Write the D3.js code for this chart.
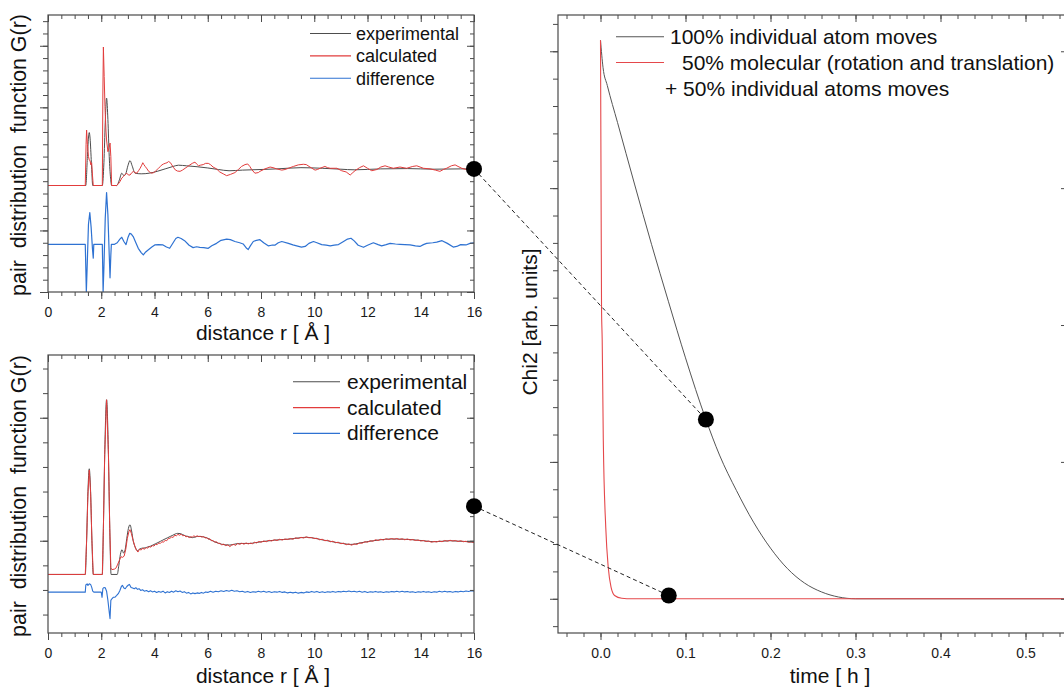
<!DOCTYPE html>
<html><head><meta charset="utf-8">
<script src="https://cdn.jsdelivr.net/npm/d3@7"></script>
<style>
html,body{margin:0;padding:0;background:#fff;}
svg{display:block;font-family:"Liberation Sans",Arial,sans-serif;}
</style></head>
<body>
<script>
// ---------------- DATA ----------------
const rTicks = [0,2,4,6,8,10,12,14,16];
const tTicks = [0.0,0.1,0.2,0.3,0.4,0.5];
const legendPdf = ["experimental","calculated","difference"];
const legendChi = ["100% individual atom moves","50% molecular (rotation and translation)","+ 50% individual atoms moves"];

// top panel (RMC with individual atom moves only)
const topExp = [[0,-0.27],[1.42,-0.27],[1.48,0.2],[1.52,0.5],[1.55,0.59],[1.58,0.5],[1.63,0.1],[1.68,-0.27],[2.04,-0.27],[2.1,0.1],[2.15,0.75],[2.2,1.15],[2.25,0.8],[2.3,0.2],[2.35,-0.15],[2.39,-0.27],[2.58,-0.27],[2.68,-0.18],[2.77,-0.07],[2.85,-0.11],[2.92,-0.08],[3.0,0.05],[3.08,0.135],[3.16,0.05],[3.27,-0.07],[3.5,-0.08],[3.8,-0.07],[4.1,-0.04],[4.4,0.0],[4.7,0.04],[4.9,0.06],[5.2,0.05],[5.6,0.035],[6.0,0.015],[6.4,-0.01],[6.8,-0.03],[7.3,-0.02],[8.0,-0.01],[8.6,0.0],[9.5,0.02],[10.3,0.01],[11,-0.005],[11.5,-0.015],[12.5,0.0],[13.5,0.005],[14.5,-0.005],[15.5,0.0],[16,0.0]];
const topCalc = [[0,-0.27],[1.4,-0.27],[1.43,0.4],[1.45,0.63],[1.48,0.4],[1.52,0.2],[1.55,0.146],[1.58,0.13],[1.61,0.065],[1.64,0.1],[1.67,-0.1],[1.70,-0.27],[2.04,-0.27],[2.06,1.2],[2.08,1.98],[2.11,1.5],[2.14,1.01],[2.18,0.6],[2.2,0.47],[2.25,0.28],[2.3,0.35],[2.33,0.42],[2.36,0.2],[2.39,-0.27],[2.58,-0.27],[2.65,-0.24],[2.71,-0.2],[2.77,-0.15],[2.83,-0.125],[2.9,-0.09],[2.96,-0.07],[3.02,-0.1],[3.08,-0.1],[3.15,-0.06],[3.21,-0.04],[3.27,-0.06],[3.33,-0.07],[3.4,-0.03],[3.46,0.01],[3.52,0.06],[3.56,0.1],[3.6,0.07],[3.65,0.04],[3.72,0.0],[3.78,-0.04],[3.85,-0.06],[3.9,-0.07],[3.97,-0.06],[4.03,-0.04],[4.1,-0.01],[4.15,0.01],[4.22,0.04],[4.28,0.065],[4.34,0.08],[4.4,0.09],[4.47,0.1],[4.53,0.12],[4.6,0.1],[4.65,0.065],[4.72,0.02],[4.78,-0.016],[4.86,-0.035],[4.96,-0.04],[5.05,-0.02],[5.15,0.01],[5.25,0.04],[5.33,0.065],[5.42,0.09],[5.52,0.11],[5.58,0.08],[5.65,0.05],[5.72,0.06],[5.83,0.07],[5.92,0.09],[6.02,0.09],[6.1,0.07],[6.2,0.03],[6.33,0.0],[6.45,-0.05],[6.58,-0.08],[6.71,-0.11],[6.85,-0.09],[7.02,-0.06],[7.15,-0.01],[7.27,0.04],[7.4,0.07],[7.5,0.08],[7.58,0.04],[7.65,-0.01],[7.77,-0.07],[7.9,-0.06],[7.96,-0.04],[8.15,0.0],[8.34,0.03],[8.45,0.02],[8.59,0.0],[8.78,-0.02],[8.9,-0.01],[9.03,0.01],[9.22,0.04],[9.4,0.065],[9.59,0.075],[9.7,0.07],[9.84,0.03],[10.03,-0.02],[10.12,-0.01],[10.22,0.01],[10.4,0.04],[10.5,0.02],[10.6,0.01],[10.85,0.01],[11.03,-0.03],[11.2,-0.05],[11.35,-0.1],[11.45,-0.06],[11.53,-0.03],[11.7,0.02],[11.85,0.05],[12.0,0.01],[12.16,-0.03],[12.35,-0.01],[12.5,0.03],[12.66,0.05],[12.8,0.03],[12.97,0.01],[13.22,0.03],[13.47,0.01],[13.7,0.04],[13.85,0.05],[14.1,0.01],[14.35,0.0],[14.55,-0.02],[14.72,-0.04],[14.85,-0.01],[14.97,0.01],[15.15,0.05],[15.29,0.065],[15.4,0.04],[15.54,0.01],[15.79,-0.02],[16,0.0]];
const topDiff = [[0,-1.225],[1.4,-1.225],[1.44,-2.0],[1.47,-1.6],[1.52,-0.9],[1.57,-0.71],[1.62,-0.95],[1.67,-1.3],[1.7,-1.45],[1.72,-1.225],[2.04,-1.225],[2.07,-2.0],[2.1,-1.6],[2.15,-0.8],[2.2,-0.385],[2.25,-0.75],[2.3,-1.4],[2.33,-1.77],[2.36,-1.4],[2.38,-1.225],[2.5,-1.225],[2.6,-1.2],[2.7,-1.14],[2.77,-1.111],[2.85,-1.18],[2.93,-1.23],[3.0,-1.12],[3.07,-1.046],[3.13,-1.06],[3.2,-1.1],[3.3,-1.2],[3.39,-1.29],[3.5,-1.36],[3.58,-1.398],[3.67,-1.35],[3.76,-1.317],[3.9,-1.27],[4.01,-1.236],[4.15,-1.23],[4.32,-1.236],[4.45,-1.27],[4.57,-1.29],[4.7,-1.2],[4.8,-1.13],[4.88,-1.111],[5.0,-1.13],[5.13,-1.166],[5.3,-1.24],[5.45,-1.279],[5.58,-1.265],[5.7,-1.274],[5.85,-1.28],[6.02,-1.29],[6.15,-1.25],[6.33,-1.21],[6.5,-1.16],[6.71,-1.14],[6.85,-1.15],[7.02,-1.18],[7.2,-1.2],[7.33,-1.22],[7.46,-1.29],[7.52,-1.31],[7.6,-1.25],[7.71,-1.18],[7.83,-1.16],[7.96,-1.15],[8.1,-1.2],[8.27,-1.25],[8.4,-1.24],[8.52,-1.24],[8.65,-1.2],[8.78,-1.18],[9.03,-1.21],[9.2,-1.235],[9.34,-1.25],[9.52,-1.27],[9.66,-1.26],[9.8,-1.21],[9.97,-1.18],[10.1,-1.2],[10.28,-1.23],[10.45,-1.24],[10.6,-1.25],[10.75,-1.24],[10.91,-1.23],[11.1,-1.18],[11.25,-1.14],[11.38,-1.127],[11.5,-1.17],[11.65,-1.24],[11.85,-1.274],[12.0,-1.24],[12.22,-1.2],[12.4,-1.23],[12.53,-1.25],[12.7,-1.23],[12.85,-1.21],[13.05,-1.22],[13.22,-1.225],[13.4,-1.23],[13.6,-1.235],[13.8,-1.25],[13.97,-1.26],[14.1,-1.23],[14.22,-1.21],[14.45,-1.2],[14.6,-1.19],[14.8,-1.166],[15.0,-1.21],[15.22,-1.27],[15.35,-1.26],[15.5,-1.23],[15.7,-1.236],[15.85,-1.21],[16,-1.2]];

// bottom panel (50% molecular + 50% atom moves)
const botExp = [[0,-0.274],[1.40,-0.274],[1.45,0.0],[1.5,0.4],[1.55,0.585],[1.6,0.4],[1.65,0.0],[1.70,-0.274],[2.04,-0.274],[2.08,0.1],[2.13,0.7],[2.2,1.146],[2.27,0.7],[2.32,0.1],[2.37,-0.274],[2.6,-0.274],[2.66,-0.2],[2.72,-0.11],[2.78,-0.073],[2.84,-0.1],[2.9,-0.07],[2.96,0.02],[3.02,0.1],[3.08,0.13],[3.14,0.08],[3.2,0.0],[3.27,-0.05],[3.36,-0.08],[3.46,-0.065],[3.56,-0.06],[3.65,-0.058],[3.75,-0.05],[3.84,-0.045],[3.94,-0.035],[4.03,-0.025],[4.13,-0.015],[4.22,-0.005],[4.31,0.005],[4.4,0.015],[4.5,0.025],[4.59,0.035],[4.69,0.045],[4.78,0.055],[4.87,0.06],[4.96,0.058],[5.06,0.05],[5.15,0.04],[5.24,0.035],[5.33,0.03],[5.42,0.025],[5.52,0.03],[5.61,0.035],[5.71,0.035],[5.8,0.033],[5.9,0.028],[6.0,0.02],[6.08,0.01],[6.18,0.0],[6.27,-0.01],[6.4,-0.02],[6.52,-0.028],[6.65,-0.033],[6.83,-0.035],[7.0,-0.028],[7.2,-0.022],[7.4,-0.022],[7.58,-0.022],[7.77,-0.016],[7.96,-0.01],[8.15,-0.004],[8.33,0.0],[8.52,0.005],[8.71,0.008],[8.9,0.011],[9.09,0.014],[9.27,0.019],[9.46,0.024],[9.71,0.028],[9.97,0.022],[10.16,0.014],[10.35,0.005],[10.55,-0.002],[10.72,-0.01],[10.95,-0.018],[11.15,-0.025],[11.35,-0.03],[11.55,-0.026],[11.72,-0.018],[11.97,-0.008],[12.22,0.0],[12.5,0.008],[12.85,0.014],[13.1,0.014],[13.35,0.012],[13.6,0.01],[13.85,0.005],[14.1,0.0],[14.47,-0.008],[14.8,-0.004],[15.1,0.0],[15.35,-0.003],[15.6,-0.005],[15.85,-0.01],[16,-0.012]];
const botCalc = [[0,-0.274],[1.40,-0.274],[1.45,0.0],[1.5,0.38],[1.55,0.575],[1.6,0.39],[1.65,0.0],[1.70,-0.274],[2.04,-0.274],[2.08,0.1],[2.13,0.7],[2.2,1.146],[2.27,0.7],[2.32,0.1],[2.36,-0.22],[2.4,-0.235],[2.5,-0.23],[2.56,-0.22],[2.62,-0.19],[2.68,-0.16],[2.74,-0.13],[2.8,-0.135],[2.86,-0.125],[2.92,-0.07],[2.98,0.02],[3.04,0.075],[3.08,0.09],[3.13,0.06],[3.2,0.0],[3.27,-0.05],[3.33,-0.08],[3.38,-0.092],[3.43,-0.07],[3.5,-0.075],[3.56,-0.06],[3.62,-0.07],[3.68,-0.055],[3.74,-0.06],[3.8,-0.048],[3.86,-0.052],[3.92,-0.04],[3.98,-0.043],[4.04,-0.03],[4.1,-0.032],[4.16,-0.018],[4.22,-0.022],[4.28,-0.008],[4.34,-0.012],[4.4,0.004],[4.46,0.0],[4.52,0.018],[4.58,0.02],[4.64,0.03],[4.7,0.027],[4.76,0.045],[4.82,0.04],[4.88,0.052],[4.94,0.045],[5.0,0.053],[5.06,0.04],[5.12,0.044],[5.18,0.032],[5.24,0.036],[5.3,0.026],[5.36,0.032],[5.42,0.03],[5.48,0.04],[5.54,0.032],[5.6,0.04],[5.66,0.034],[5.72,0.036],[5.78,0.03],[5.84,0.034],[5.9,0.022],[5.96,0.026],[6.02,0.012],[6.08,0.016],[6.14,0.0],[6.2,0.002],[6.26,-0.012],[6.32,-0.008],[6.4,-0.022],[6.46,-0.02],[6.52,-0.034],[6.6,-0.028],[6.68,-0.04],[6.75,-0.033],[6.83,-0.048],[6.9,-0.035],[6.98,-0.03],[7.05,-0.038],[7.12,-0.022],[7.2,-0.03],[7.28,-0.02],[7.36,-0.028],[7.44,-0.018],[7.52,-0.026],[7.6,-0.02],[7.68,-0.024],[7.76,-0.012],[7.84,-0.018],[7.92,-0.006],[8.0,-0.012],[8.1,-0.002],[8.2,-0.008],[8.3,0.004],[8.4,-0.002],[8.5,0.008],[8.6,0.002],[8.7,0.012],[8.8,0.006],[8.9,0.014],[9.0,0.01],[9.1,0.018],[9.2,0.012],[9.3,0.024],[9.4,0.018],[9.5,0.028],[9.6,0.022],[9.7,0.032],[9.8,0.024],[9.9,0.026],[10.0,0.018],[10.1,0.02],[10.2,0.008],[10.3,0.012],[10.4,0.0],[10.5,0.004],[10.6,-0.008],[10.7,-0.004],[10.8,-0.016],[10.9,-0.012],[11.0,-0.024],[11.1,-0.02],[11.2,-0.032],[11.3,-0.026],[11.4,-0.036],[11.5,-0.026],[11.6,-0.03],[11.7,-0.018],[11.8,-0.02],[11.9,-0.008],[12.0,-0.012],[12.1,0.0],[12.2,-0.004],[12.3,0.008],[12.4,0.002],[12.5,0.012],[12.6,0.006],[12.7,0.016],[12.8,0.01],[12.9,0.018],[13.0,0.012],[13.1,0.018],[13.2,0.01],[13.3,0.016],[13.4,0.008],[13.5,0.014],[13.6,0.006],[13.7,0.01],[13.8,0.002],[13.9,0.006],[14.0,-0.002],[14.1,0.002],[14.2,-0.006],[14.3,-0.002],[14.4,-0.012],[14.5,-0.006],[14.6,-0.01],[14.7,-0.002],[14.8,-0.008],[14.9,0.002],[15.0,-0.004],[15.1,0.004],[15.2,-0.002],[15.3,0.002],[15.4,-0.006],[15.5,0.0],[15.6,-0.008],[15.7,-0.004],[15.8,-0.012],[15.9,-0.008],[16.0,-0.016]];
const botDiff = [[0,-0.418],[1.40,-0.418],[1.42,-0.36],[1.47,-0.35],[1.5,-0.363],[1.55,-0.35],[1.6,-0.355],[1.64,-0.377],[1.68,-0.41],[1.72,-0.418],[2.0,-0.418],[2.03,-0.46],[2.06,-0.39],[2.1,-0.38],[2.15,-0.382],[2.2,-0.41],[2.25,-0.485],[2.3,-0.58],[2.33,-0.634],[2.36,-0.485],[2.4,-0.472],[2.45,-0.46],[2.52,-0.458],[2.58,-0.445],[2.64,-0.43],[2.7,-0.404],[2.76,-0.37],[2.8,-0.363],[2.85,-0.385],[2.9,-0.39],[2.96,-0.372],[3.02,-0.36],[3.06,-0.355],[3.12,-0.38],[3.18,-0.385],[3.24,-0.39],[3.3,-0.382],[3.36,-0.395],[3.42,-0.39],[3.48,-0.404],[3.55,-0.398],[3.62,-0.41],[3.7,-0.405],[3.78,-0.414],[3.85,-0.406],[3.92,-0.416],[4.0,-0.41],[4.08,-0.42],[4.16,-0.412],[4.24,-0.418],[4.32,-0.41],[4.4,-0.424],[4.48,-0.414],[4.56,-0.42],[4.64,-0.41],[4.72,-0.418],[4.8,-0.406],[4.88,-0.414],[4.96,-0.408],[5.04,-0.42],[5.12,-0.414],[5.2,-0.426],[5.28,-0.42],[5.36,-0.432],[5.44,-0.424],[5.52,-0.43],[5.6,-0.424],[5.68,-0.428],[5.76,-0.42],[5.84,-0.426],[5.92,-0.416],[6.0,-0.42],[6.1,-0.41],[6.2,-0.418],[6.3,-0.41],[6.4,-0.414],[6.5,-0.406],[6.6,-0.412],[6.7,-0.404],[6.8,-0.41],[6.9,-0.402],[7.0,-0.41],[7.1,-0.406],[7.2,-0.414],[7.3,-0.41],[7.4,-0.418],[7.5,-0.412],[7.6,-0.42],[7.7,-0.414],[7.8,-0.418],[7.9,-0.41],[8.0,-0.416],[8.1,-0.41],[8.2,-0.418],[8.3,-0.412],[8.4,-0.42],[8.5,-0.414],[8.6,-0.418],[8.7,-0.412],[8.8,-0.42],[8.9,-0.416],[9.0,-0.424],[9.1,-0.418],[9.2,-0.424],[9.3,-0.418],[9.4,-0.426],[9.5,-0.42],[9.6,-0.424],[9.7,-0.416],[9.8,-0.42],[9.9,-0.412],[10.0,-0.418],[10.1,-0.412],[10.2,-0.42],[10.3,-0.414],[10.4,-0.42],[10.5,-0.414],[10.6,-0.418],[10.7,-0.412],[10.8,-0.418],[10.9,-0.412],[11.0,-0.416],[11.1,-0.41],[11.2,-0.414],[11.3,-0.408],[11.4,-0.414],[11.5,-0.41],[11.6,-0.416],[11.7,-0.41],[11.8,-0.418],[11.9,-0.412],[12.0,-0.42],[12.1,-0.414],[12.2,-0.418],[12.3,-0.412],[12.4,-0.418],[12.5,-0.414],[12.6,-0.42],[12.7,-0.414],[12.8,-0.418],[12.9,-0.412],[13.0,-0.416],[13.1,-0.41],[13.2,-0.416],[13.3,-0.41],[13.4,-0.416],[13.5,-0.412],[13.6,-0.418],[13.7,-0.414],[13.8,-0.42],[13.9,-0.414],[14.0,-0.418],[14.1,-0.412],[14.2,-0.418],[14.3,-0.414],[14.4,-0.42],[14.5,-0.414],[14.6,-0.418],[14.7,-0.41],[14.8,-0.416],[14.9,-0.41],[15.0,-0.416],[15.1,-0.412],[15.2,-0.418],[15.3,-0.412],[15.4,-0.416],[15.5,-0.41],[15.6,-0.414],[15.7,-0.408],[15.8,-0.412],[15.9,-0.406],[16.0,-0.41]];

// right panel: Chi2 vs time
const time100 = [0,0.003,0.008,0.02,0.04,0.06,0.08,0.1,0.124,0.14,0.16,0.18,0.2,0.22,0.24,0.26,0.28,0.3,0.56];
const chi100  = [4.08,3.88,3.75,3.48,3.03,2.59,2.17,1.76,1.31,1.05,0.79,0.56,0.37,0.22,0.115,0.05,0.013,0,0];
const time50  = [0,0.0012,0.002,0.0033,0.0062,0.0091,0.0124,0.0166,0.025,0.037,0.56];
const chi50   = [4.08,2.13,1.89,1.157,0.52,0.23,0.085,0.024,0.004,0,0];

// highlighted snapshots: [r, G] in PDF panels, [t, chi2] in the chi2 panel
const snapTop = [16, 0.0];
const snapBot = [16, 0.281];
const snapChiTop = [0.124, 1.31];
const snapChiBot = [0.0803, 0.024];

// ---------------- DRAW ----------------
const W = 1064, H = 693;
const FONT = '"Liberation Sans", Arial, sans-serif';
const C_EXP = "#4d4d4d", C_CALC = "#e23c3c", C_DIFF = "#2e72d2";
const svg = d3.select("body").append("svg").attr("width", W).attr("height", H);

function rng(a, b, s){ const n = Math.round((b - a)/s); return d3.range(n+1).map(i => +(a + i*s).toFixed(6)); }

function panel(o){
  const x = d3.scaleLinear().domain(o.xDomain).range([o.left, o.right]);
  const y = d3.scaleLinear().domain(o.yDomain).range([o.bottom, o.top]);
  const g = svg.append("g");
  const id = "clip" + Math.round(o.top) + "_" + Math.round(o.left);
  svg.append("clipPath").attr("id", id).append("rect")
    .attr("x", o.left).attr("y", o.top).attr("width", o.right - o.left).attr("height", o.bottom - o.top);
  const plot = g.append("g").attr("clip-path", `url(#${id})`);
  const ax = g.append("g").attr("class", "axes");
  const MAJ = 7, MIN = 4;
  function styleAxis(s){ s.select(".domain").remove(); s.selectAll("line").attr("stroke", "#4a4a4a"); }
  // bottom
  ax.append("g").attr("transform", `translate(0,${o.bottom})`)
    .call(d3.axisBottom(x).tickValues(o.xMinor).tickSize(MIN).tickFormat("")).call(styleAxis);
  ax.append("g").attr("transform", `translate(0,${o.bottom})`)
    .call(d3.axisBottom(x).tickValues(o.xMajor).tickSize(MAJ).tickPadding(8).tickFormat(o.xFmt)).call(styleAxis)
    .call(s => s.selectAll("text").attr("font-size", 14).attr("fill", "#1a1a1a").attr("font-family", FONT));
  // top (inward)
  ax.append("g").attr("transform", `translate(0,${o.top})`)
    .call(d3.axisTop(x).tickValues(o.xMinor).tickSize(-MIN).tickFormat("")).call(styleAxis);
  ax.append("g").attr("transform", `translate(0,${o.top})`)
    .call(d3.axisTop(x).tickValues(o.xMajor).tickSize(-MAJ).tickFormat("")).call(styleAxis);
  // left (outward)
  ax.append("g").attr("transform", `translate(${o.left},0)`)
    .call(d3.axisLeft(y).tickValues(o.yMinor).tickSize(MIN+1).tickFormat("")).call(styleAxis);
  ax.append("g").attr("transform", `translate(${o.left},0)`)
    .call(d3.axisLeft(y).tickValues(o.yMajor).tickSize(MAJ+1).tickFormat("")).call(styleAxis);
  // right (inward)
  ax.append("g").attr("transform", `translate(${o.right},0)`)
    .call(d3.axisRight(y).tickValues(o.yMinor).tickSize(-MIN).tickFormat("")).call(styleAxis);
  ax.append("g").attr("transform", `translate(${o.right},0)`)
    .call(d3.axisRight(y).tickValues(o.yMajor).tickSize(-MAJ).tickFormat("")).call(styleAxis);
  ax.append("rect").attr("x", o.left).attr("y", o.top)
    .attr("width", o.right - o.left).attr("height", o.bottom - o.top)
    .attr("fill", "none").attr("stroke", "#4a4a4a").attr("stroke-width", 1.2);
  return {x, y, plot, g};
}

function drawLine(p, data, color, w, curve){
  p.plot.append("path").datum(data)
    .attr("fill", "none").attr("stroke", color).attr("stroke-width", w).attr("stroke-linejoin", "round")
    .attr("d", d3.line().x(d => p.x(d[0])).y(d => p.y(d[1])).curve(curve || d3.curveLinear));
}

function text(str, x, y, size, opts){
  opts = opts || {};
  const t = svg.append("text").attr("x", x).attr("y", y).attr("font-size", size)
    .attr("font-family", FONT).attr("fill", "#111").attr("text-anchor", opts.anchor || "start")
    .style("white-space", "pre").text(str);
  if (opts.rotate) t.attr("transform", `rotate(-90,${x},${y})`);
  return t;
}

// ----- top-left PDF panel -----
const pTop = panel({left: 48, right: 474, top: 15, bottom: 292,
  xDomain: [0, 16], yDomain: [-2, 2.5],
  xMajor: rTicks, xMinor: rng(0, 16, 0.5),
  yMajor: rng(-2, 2, 1), yMinor: rng(-2, 2.4, 0.2), xFmt: d3.format("d")});
drawLine(pTop, topDiff, C_DIFF, 1.2);
drawLine(pTop, topExp, C_EXP, 1, d3.curveMonotoneX);
drawLine(pTop, topCalc, C_CALC, 1);

// ----- bottom-left PDF panel -----
const pBot = panel({left: 48, right: 474, top: 355, bottom: 633,
  xDomain: [0, 16], yDomain: [-0.75, 1.51],
  xMajor: rTicks, xMinor: rng(0, 16, 0.5),
  yMajor: [0, 1], yMinor: rng(-0.6, 1.4, 0.2), xFmt: d3.format("d")});
drawLine(pBot, botDiff, C_DIFF, 1.1);
drawLine(pBot, botExp, C_EXP, 1, d3.curveMonotoneX);
drawLine(pBot, botCalc, C_CALC, 1);

// ----- right Chi2 panel -----
const pChi = panel({left: 558, right: 1068, top: 15, bottom: 633,
  xDomain: [-0.05, 0.55], yDomain: [-0.25, 4.265],
  xMajor: tTicks, xMinor: rng(-0.04, 0.54, 0.02),
  yMajor: rng(0, 4, 1), yMinor: rng(-0.2, 4.2, 0.2), xFmt: d3.format(".1f")});
drawLine(pChi, time100.map((t, i) => [t, chi100[i]]), "#555", 1, d3.curveMonotoneX);
drawLine(pChi, time50.map((t, i) => [t, chi50[i]]), "#e5484b", 1.1, d3.curveMonotoneX);

// ----- axis titles -----
text("pair  distribution  function G(r)", 26, 155, 21.4, {anchor: "middle", rotate: true});
text("pair  distribution  function G(r)", 26, 496, 21.4, {anchor: "middle", rotate: true});
text("distance r [ Å ]", 263, 340, 21, {anchor: "middle"});
text("distance r [ Å ]", 263, 683, 21, {anchor: "middle"});
text("Chi2 [arb. units]", 537, 322, 21, {anchor: "middle", rotate: true});
text("time [ h ]", 830, 683, 21, {anchor: "middle"});

// ----- legends -----
const legCol = [C_EXP, C_CALC, C_DIFF];
legendPdf.forEach((s, i) => {
  const yy = 33.5 + i * 22.4;
  svg.append("line").attr("x1", 310).attr("x2", 351).attr("y1", yy).attr("y2", yy).attr("stroke", legCol[i]).attr("stroke-width", 1.1);
  text(s, 356, yy + 6.3, 18);
});
legendPdf.forEach((s, i) => {
  const yy = 381.8 + i * 25.8;
  svg.append("line").attr("x1", 293).attr("x2", 340).attr("y1", yy).attr("y2", yy).attr("stroke", legCol[i]).attr("stroke-width", 1.1);
  text(s, 347, yy + 7, 21);
});
[["#555", 36.7], ["#e5484b", 62.5]].forEach(([c, yy]) => {
  svg.append("line").attr("x1", 616).attr("x2", 664).attr("y1", yy).attr("y2", yy).attr("stroke", c).attr("stroke-width", 1.1);
});
text(legendChi[0], 670, 44, 21);
text(legendChi[1], 682, 70, 21);
text(legendChi[2], 665, 96, 21);

// ----- connectors + snapshot markers -----
const ov = svg.append("g");
const links = [[pTop.x(snapTop[0]), pTop.y(snapTop[1]), pChi.x(snapChiTop[0]), pChi.y(snapChiTop[1])],
               [pBot.x(snapBot[0]), pBot.y(snapBot[1]), pChi.x(snapChiBot[0]), pChi.y(snapChiBot[1])]];
links.forEach(l => {
  ov.append("line").attr("x1", l[0]).attr("y1", l[1]).attr("x2", l[2]).attr("y2", l[3])
    .attr("stroke", "#222").attr("stroke-width", 1).attr("stroke-dasharray", "4,3");
  ov.append("circle").attr("cx", l[0]).attr("cy", l[1]).attr("r", 8).attr("fill", "#000");
  ov.append("circle").attr("cx", l[2]).attr("cy", l[3]).attr("r", 8).attr("fill", "#000");
});
</script>
</body></html>
